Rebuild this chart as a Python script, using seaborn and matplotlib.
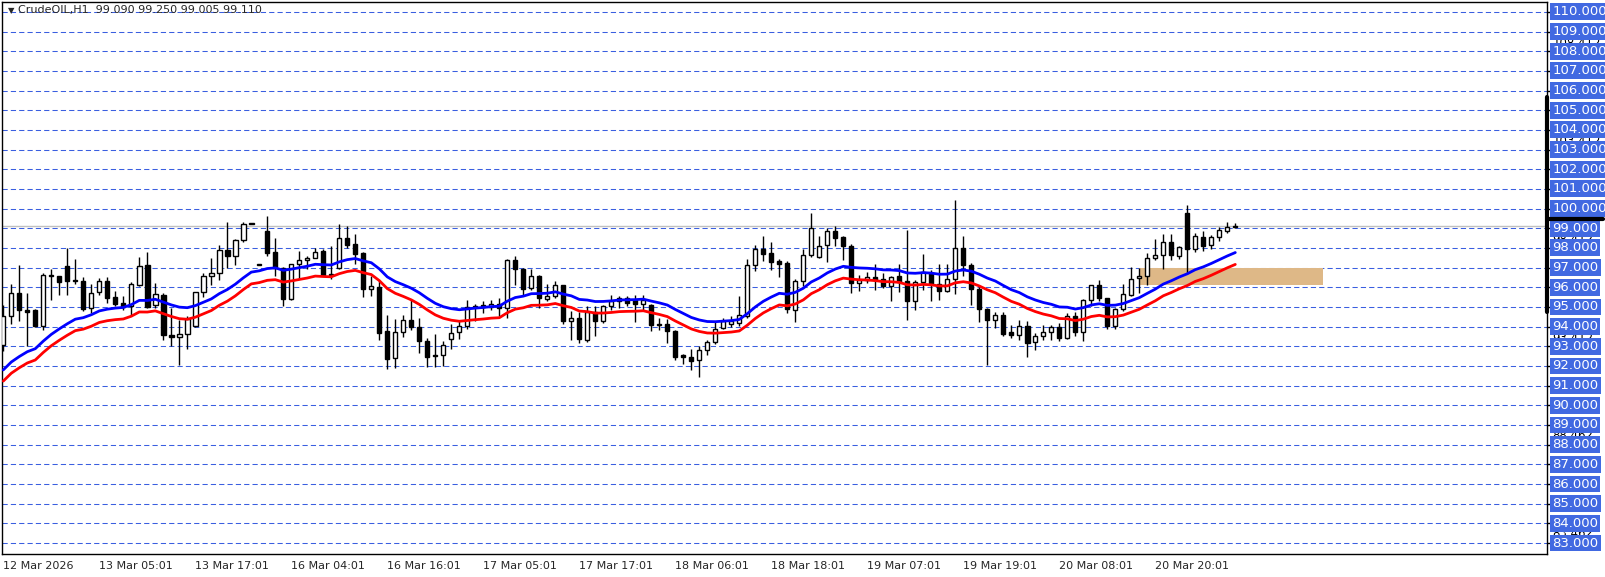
import numpy as np
import pandas as pd
import seaborn as sns
import matplotlib.pyplot as plt
import matplotlib.transforms as mtrans
from matplotlib.patches import Rectangle

# CrudeOIL H1 candles
opens = [93.08, 94.53, 95.72, 94.86, 94.86, 94.02, 96.64, 96.59, 97.10, 96.39,
         96.34, 94.95, 95.75, 96.34, 95.49, 95.20, 95.03, 96.14, 97.15, 95.08,
         95.63, 93.60, 93.48, 93.63, 94.02, 95.75, 96.56, 96.73, 97.92, 97.58,
         98.42, 99.22, 97.15, 98.88, 97.81, 97.00, 95.40, 97.19, 97.39, 97.49,
         97.86, 96.64, 97.00, 98.50, 98.20, 97.75, 95.93, 96.00, 93.78, 92.41,
         93.73, 94.36, 93.98, 93.27, 92.58, 92.58, 93.37, 93.73, 94.02, 95.00,
         95.12, 94.98, 95.15, 94.95, 97.41, 96.95, 95.97, 96.60, 95.42, 95.54,
         96.12, 94.27, 94.44, 93.30, 94.73, 94.27, 95.03, 95.29, 95.46, 95.34,
         95.17, 95.12, 94.15, 94.15, 93.80, 92.54, 92.46, 92.32, 92.80, 93.22,
         93.93, 94.15, 94.19, 94.56, 97.12, 97.95, 97.75, 97.32, 97.24, 94.86,
         96.34, 97.64, 97.54, 98.15, 98.88, 98.54, 98.12, 96.22, 96.39, 96.53,
         96.42, 96.08, 96.60, 96.34, 95.29, 96.27, 96.73, 96.19, 95.83, 96.42,
         98.00, 97.12, 95.93, 94.90, 94.36, 94.61, 93.73, 93.60, 94.05, 93.20,
         93.51, 93.73, 93.98, 93.42, 94.56, 93.73, 95.34, 96.10, 95.46, 94.02,
         94.90, 95.59, 96.46, 96.56, 97.47, 97.63, 98.30, 97.58, 99.78, 97.95,
         98.56, 98.14, 98.56, 98.85, 99.09]
highs = [95.10, 96.19, 97.15, 95.72, 94.90, 96.73, 96.95, 96.60, 98.00, 97.46,
         96.53, 96.19, 96.47, 96.54, 95.83, 95.58, 96.27, 97.54, 97.81, 96.22,
         95.72, 94.95, 94.36, 94.56, 95.78, 96.73, 97.49, 98.17, 99.31, 98.45,
         99.30, 99.27, 97.20, 99.64, 98.50, 97.05, 97.20, 97.86, 97.61, 98.00,
         97.95, 98.08, 99.24, 99.14, 98.73, 97.78, 96.56, 96.30, 94.61, 94.39,
         94.61, 95.37, 94.44, 93.42, 93.64, 93.29, 94.15, 94.27, 95.37, 95.17,
         95.30, 95.37, 95.46, 97.43, 97.61, 97.00, 96.95, 96.64, 96.19, 96.34,
         96.14, 94.81, 94.73, 95.03, 95.03, 95.12, 95.63, 95.58, 95.58, 95.63,
         95.63, 95.14, 94.44, 94.39, 93.82, 92.63, 92.86, 93.00, 93.34, 94.27,
         94.44, 94.53, 95.54, 97.46, 98.17, 98.63, 98.32, 97.44, 97.36, 96.42,
         97.95, 99.78, 98.63, 99.02, 99.14, 98.63, 98.22, 96.64, 96.76, 97.20,
         96.73, 96.55, 97.20, 98.93, 96.39, 97.71, 96.90, 97.20, 97.20, 100.46,
         98.63, 97.24, 96.14, 94.95, 94.75, 94.75, 94.10, 94.36, 94.27, 93.68,
         94.07, 94.07, 94.19, 94.70, 94.75, 95.42, 96.12, 96.39, 95.48, 94.95,
         96.19, 97.03, 96.98, 97.75, 98.46, 98.73, 98.73, 98.12, 100.20, 98.76,
         98.88, 98.68, 99.05, 99.30, 99.25]
lows = [92.75, 94.15, 94.27, 93.03, 94.00, 93.85, 95.37, 95.62, 95.62, 96.19,
        94.78, 94.70, 95.62, 95.20, 95.03, 94.83, 94.56, 96.05, 94.95, 94.95,
        93.30, 93.03, 92.07, 92.87, 94.00, 95.51, 96.14, 96.36, 97.00, 97.15,
        98.30, 99.20, 97.13, 97.58, 96.60, 95.03, 95.34, 96.44, 96.93, 97.49,
        96.56, 96.44, 96.93, 98.00, 97.20, 95.51, 95.54, 93.34, 91.85, 91.90,
        93.47, 93.81, 92.66, 91.95, 91.95, 92.02, 92.87, 93.37, 93.90, 94.27,
        94.70, 94.83, 94.53, 94.44, 96.14, 95.62, 95.85, 94.95, 95.29, 95.46,
        94.15, 93.30, 93.17, 93.24, 93.54, 94.19, 94.86, 94.95, 95.03, 94.22,
        94.86, 93.76, 93.81, 93.17, 92.29, 92.12, 91.81, 91.44, 92.54, 93.12,
        93.88, 93.98, 94.02, 94.44, 96.81, 97.32, 96.86, 96.50, 94.70, 94.22,
        96.08, 97.54, 97.49, 97.27, 98.12, 97.37, 95.71, 95.80, 96.22, 95.88,
        95.97, 95.29, 95.75, 94.36, 94.86, 95.88, 95.29, 95.34, 95.76, 95.66,
        96.60, 95.08, 94.22, 92.07, 93.93, 93.51, 93.42, 93.34, 92.44, 92.80,
        93.34, 93.34, 93.25, 93.37, 93.51, 93.25, 95.07, 95.29, 93.88, 93.88,
        94.78, 95.54, 95.71, 96.14, 97.37, 96.93, 97.37, 97.44, 96.69, 97.78,
        97.83, 97.95, 98.34, 98.76, 99.005]
closes = [94.53, 95.72, 94.83, 94.76, 94.05, 96.64, 96.55, 96.25, 96.30, 96.30,
          94.90, 95.72, 96.34, 95.44, 95.17, 95.00, 96.17, 97.10, 95.00, 95.66,
          93.60, 93.46, 93.63, 94.39, 95.76, 96.56, 96.73, 97.92, 97.58, 98.42,
          99.24, 99.24, 97.17, 97.75, 97.00, 95.40, 97.19, 97.39, 97.49, 97.80,
          96.64, 96.70, 98.50, 98.17, 97.70, 95.92, 96.05, 93.70, 92.36, 93.73,
          94.32, 93.98, 93.25, 92.46, 92.49, 93.08, 93.68, 94.05, 95.00, 95.03,
          95.00, 95.15, 94.95, 97.41, 96.93, 95.92, 96.56, 95.46, 95.58, 96.12,
          94.27, 94.44, 93.37, 94.75, 94.27, 95.03, 95.29, 95.46, 95.20, 95.14,
          95.34, 94.07, 94.07, 93.76, 92.46, 92.46, 92.24, 92.83, 93.22, 93.88,
          94.27, 94.27, 94.61, 97.15, 97.95, 97.71, 97.27, 97.20, 94.92, 96.34,
          97.64, 99.00, 98.08, 98.88, 98.49, 98.08, 96.22, 96.39, 96.53, 96.36,
          96.08, 96.53, 96.25, 95.29, 96.27, 96.76, 96.19, 95.83, 96.42, 98.00,
          97.12, 95.93, 94.90, 94.32, 94.61, 93.64, 93.56, 94.05, 93.17, 93.54,
          93.73, 93.98, 93.42, 94.56, 93.73, 95.34, 96.10, 95.46, 94.02, 94.90,
          95.66, 96.42, 96.60, 97.49, 97.63, 98.30, 97.63, 98.03, 97.95, 98.59,
          98.08, 98.56, 98.93, 99.07, 99.11]

date_labels = ["12 Mar 2026", "13 Mar 05:01", "13 Mar 17:01", "16 Mar 04:01",
               "16 Mar 16:01", "17 Mar 05:01", "17 Mar 17:01", "18 Mar 06:01",
               "18 Mar 18:01", "19 Mar 07:01", "19 Mar 19:01", "20 Mar 08:01",
               "20 Mar 20:01"]
date_bars = [0, 12, 24, 36, 48, 60, 72, 84, 96, 108, 120, 132, 144]

price_levels = list(range(83, 111))
hidden_levels = [108.412, 103.412, 98.412, 93.412, 88.462, 83.462]

title = "CrudeOIL,H1  99.090 99.250 99.005 99.110"
bid = 99.11

zone_bars = (142, 165)
zone_prices = (96.1, 96.97)

ma_start = 91.2      # value of the average just before the first bar
ma_span = 20
env_dev = 0.31       # envelope deviation, %

W, H = 1606, 577
sns.set_style("white")
plt.rcParams["font.family"] = ["DejaVu Sans"]

df = pd.DataFrame({"open": opens, "high": highs, "low": lows, "close": closes})
df["bar"] = np.arange(len(df))
ema = pd.Series([ma_start] + closes).ewm(span=ma_span, adjust=False).mean().iloc[1:].values
df["upper"] = ema * (1 + env_dev / 100)
df["lower"] = ema * (1 - env_dev / 100)

fig = plt.figure(figsize=(W / 100, H / 100), dpi=100)
left, right, top, bottom = 2, 1547, 2, 554
ax = fig.add_axes([left / W, 1 - bottom / H, (right - left) / W, (bottom - top) / H])
px = 8.0  # pixels per bar
ax.set_xlim((left - 3.3) / px, (right - 3.3) / px)
ax.set_ylim(99 - (bottom - 228.3) / 19.67, 99 + (228.3 - top) / 19.67)

for p in price_levels:
    ax.axhline(p, color="#3a5fe0", lw=0.75, ls=(0, (5, 3)), zorder=1)
ax.axhline(bid, color="#c0c0c0", lw=1, zorder=1)

ax.add_patch(Rectangle((zone_bars[0], zone_prices[0]), zone_bars[1] - zone_bars[0],
                       zone_prices[1] - zone_prices[0], color="#deb887", lw=0, zorder=2))

up = df["close"] >= df["open"]
body_lo = np.minimum(df["open"], df["close"])
body_h = np.maximum((df["close"] - df["open"]).abs(), 0.04)
ax.vlines(df["bar"], df["low"], df["high"], color="black", lw=1, zorder=3)
ax.bar(df["bar"][up], body_h[up], bottom=body_lo[up], width=0.55,
       color="white", edgecolor="black", lw=1, zorder=4)
ax.bar(df["bar"][~up], body_h[~up], bottom=body_lo[~up], width=0.55,
       color="black", edgecolor="black", lw=1, zorder=4)

sns.lineplot(data=df, x="bar", y="upper", color="#0000ff", lw=2, ax=ax, zorder=5)
sns.lineplot(data=df, x="bar", y="lower", color="#ff0000", lw=2, ax=ax, zorder=5)

for s in ax.spines.values():
    s.set_color("black")
    s.set_linewidth(1)
ax.set_xlabel("")
ax.set_ylabel("")
ax.set_yticks([])
ax.set_xticks(date_bars)
ax.set_xticklabels(date_labels, ha="left", fontsize=8)
ax.tick_params(axis="x", direction="out", length=4, width=1, pad=1, color="black")

# price scale on the right
tr = mtrans.blended_transform_factory(ax.transAxes, ax.transData)
for p in hidden_levels:
    ax.text(1.0035, p, f"{p:.3f}", transform=tr, fontsize=8.5, color="black",
            va="center", ha="left", clip_on=False, zorder=6)
for p in price_levels:
    ax.text(1.0035, p, f"{p:.3f}", transform=tr, fontsize=9.5, color="white",
            va="center", ha="left", clip_on=False, zorder=7,
            bbox=dict(boxstyle="square,pad=0.15", fc="#4169e1", ec="none"))
    ax.plot([1.0, 1.0025], [p, p], transform=tr, color="black", lw=1, clip_on=False)
ax.plot([1.0, 1.0], [94.75, 105.7], transform=tr, color="black", lw=3, clip_on=False, zorder=8)
ax.plot([1.0, 1.036], [99.45, 99.45], transform=tr, color="black", lw=3, clip_on=False, zorder=8)

ax.text(0.004, 0.992, "\u25bc", transform=ax.transAxes, fontsize=6, va="top", ha="left")
ax.text(0.0105, 0.994, title, transform=ax.transAxes, fontsize=8, va="top", ha="left")

fig.savefig("out.png", dpi=100)
